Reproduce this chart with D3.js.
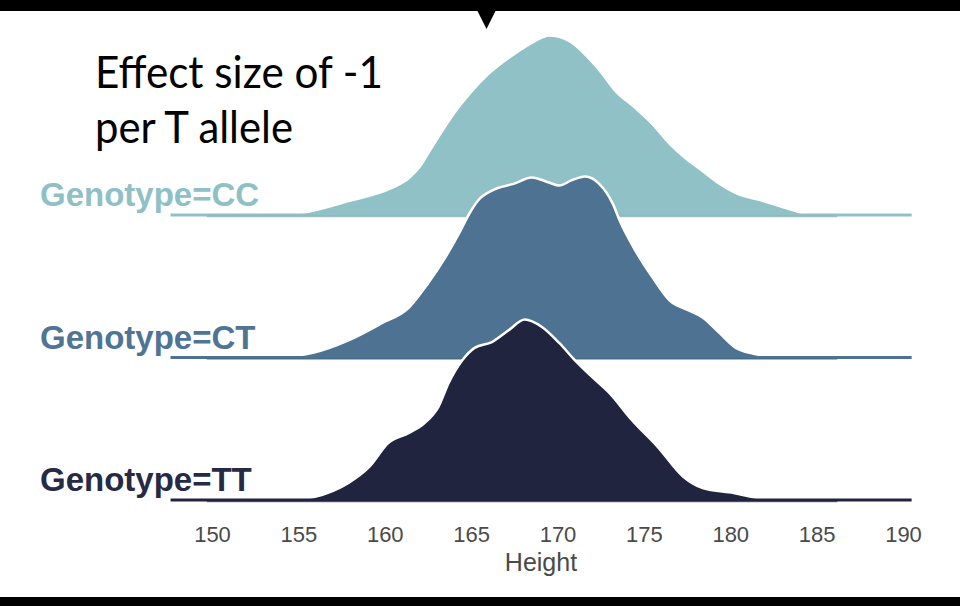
<!DOCTYPE html>
<html>
<head>
<meta charset="utf-8">
<script src="https://cdn.jsdelivr.net/npm/d3@7"></script>
<style>
  html, body { margin: 0; padding: 0; background: #fff; }
  svg { display: block; }
</style>
</head>
<body>
<svg id="chart" width="960" height="606"></svg>
<script>
// Genotype groups, back to front
const genotypes = ["CC", "CT", "TT"];
const labels = ["Genotype=CC", "Genotype=CT", "Genotype=TT"];
const fills = ["#8fc1c6", "#4d7292", "#21243e"];
const labelColors = ["#8ec0c5", "#4f7495", "#262a45"];

// Density estimates of height (cm) per genotype
const heightCC = [147.6, 154.0, 155.2, 157.9, 160.4, 161.4, 162.0, 162.6, 163.2, 163.7, 164.9, 166.0, 167.5, 168.7, 169.5, 170.7, 171.4, 172.6, 173.3, 174.5, 175.5, 176.5, 177.4, 178.4, 179.4, 180.3, 181.9, 183.4, 184.6, 190.5];
const densityCC = [0, 0.0003, 0.001, 0.0062, 0.012, 0.0164, 0.0212, 0.0285, 0.0358, 0.0418, 0.0538, 0.0627, 0.0716, 0.0773, 0.0798, 0.0773, 0.0729, 0.0627, 0.0556, 0.0476, 0.0404, 0.0316, 0.0253, 0.0196, 0.0138, 0.0098, 0.0062, 0.0027, 0.0004, 0];

const heightCT = [147.6, 154.0, 155.9, 157.9, 159.8, 161.4, 162.5, 163.5, 164.3, 164.9, 165.4, 166.2, 167.5, 168.5, 169.5, 170.1, 170.8, 171.6, 172.4, 173.2, 173.6, 174.5, 175.5, 176.5, 177.6, 178.4, 179.4, 180.3, 181.3, 183.2, 190.5];
const densityCT = [0, 0.0004, 0.0022, 0.0076, 0.0151, 0.0222, 0.0329, 0.0444, 0.0551, 0.064, 0.0698, 0.0742, 0.0773, 0.08, 0.0778, 0.0764, 0.0787, 0.0804, 0.0773, 0.0684, 0.0609, 0.0476, 0.0356, 0.0253, 0.0209, 0.0178, 0.0107, 0.0044, 0.0018, 0.0002, 0];

const heightTT = [147.6, 154.6, 155.9, 157.9, 159.1, 160.2, 161.4, 162.3, 163.1, 163.7, 164.5, 165.2, 166.2, 167.2, 168.1, 169.1, 170.1, 171.0, 172.0, 173.0, 174.3, 175.8, 177.3, 178.4, 180.2, 182.0, 183.6, 190.5];
const densityTT = [0, 0, 0.0013, 0.0076, 0.0147, 0.0253, 0.0298, 0.0342, 0.0413, 0.052, 0.0622, 0.0676, 0.0702, 0.0756, 0.0802, 0.0769, 0.0698, 0.0622, 0.0547, 0.0476, 0.0356, 0.0236, 0.0102, 0.0053, 0.0031, 0.0004, 0, 0];

const xTicks = [150, 155, 160, 165, 170, 175, 180, 185, 190];
const xTitle = "Height";
const noteLines = ["Effect size of -1", "per T allele"];

const series = [
  { h: heightCC, d: densityCC },
  { h: heightCT, d: densityCT },
  { h: heightTT, d: densityTT }
];

const svg = d3.select("#chart");

// Scales
const x = d3.scaleLinear().domain([150, 190]).range([212, 903]);
const base = d3.scalePoint().domain(genotypes).range([215, 500]);
const ridge = d3.scaleLinear().domain([0, 0.08]).range([0, 180]);

// Frame bars and pointer
svg.append("rect").attr("x", 0).attr("y", 0).attr("width", 960).attr("height", 11).attr("fill", "#000");
svg.append("rect").attr("x", 0).attr("y", 597).attr("width", 960).attr("height", 9).attr("fill", "#000");
svg.append("path").attr("d", "M477,10 L496,10 L486.5,29 Z").attr("fill", "#000");

// Ridges
genotypes.forEach((g, i) => {
  const s = series[i];
  const pts = s.h.map((h, k) => [h, s.d[k]]);
  const y0 = base(g);
  const area = d3.area()
    .x(p => x(p[0]))
    .y0(y0)
    .y1(p => y0 - ridge(p[1]))
    .curve(d3.curveMonotoneX);
  const line = d3.line()
    .x(p => x(p[0]))
    .y(p => y0 - ridge(p[1]))
    .curve(d3.curveMonotoneX);

  const grp = svg.append("g").attr("class", "ridge-" + g);
  grp.append("path").attr("d", area(pts)).attr("fill", fills[i]);
  // white outline along the density curve
  grp.append("path").attr("d", line(pts))
    .attr("fill", "none").attr("stroke", "#fff").attr("stroke-width", 2.5)
    .attr("stroke-linejoin", "round");
  // colored baseline across the full range
  grp.append("line")
    .attr("x1", x(147.6)).attr("x2", x(190.5))
    .attr("y1", y0).attr("y2", y0)
    .attr("stroke", fills[i]).attr("stroke-width", 3);
  grp.append("line")
    .attr("x1", x(149.7)).attr("x2", x(186.2))
    .attr("y1", y0 + 1.5).attr("y2", y0 + 1.5)
    .attr("stroke", d3.color(fills[i]).darker(0.4)).attr("stroke-width", 1.5)
    .attr("opacity", 0.6);

  svg.append("text")
    .attr("x", 40).attr("y", y0 - 9)
    .attr("fill", labelColors[i])
    .attr("font-family", "Liberation Sans, Arial, sans-serif")
    .attr("font-weight", "bold")
    .attr("font-size", 33)
    .text(labels[i]);
});

// X axis
const axis = svg.append("g")
  .attr("transform", "translate(0,520)")
  .call(d3.axisBottom(x).tickValues(xTicks).tickSize(0).tickFormat(d3.format("d")));
axis.select(".domain").remove();
axis.selectAll("text")
  .attr("y", 22).attr("dy", 0)
  .attr("fill", "#4a4a4a")
  .attr("font-family", "Liberation Sans, Arial, sans-serif")
  .attr("font-size", 22);

svg.append("text")
  .attr("x", 541).attr("y", 571)
  .attr("text-anchor", "middle")
  .attr("fill", "#4a4a4a")
  .attr("font-family", "Liberation Sans, Arial, sans-serif")
  .attr("font-size", 25)
  .text(xTitle);

// Annotation
const noteWidths = [288, 198];
noteLines.forEach((t, i) => {
  svg.append("text")
    .attr("x", 95).attr("y", 88 + i * 55)
    .attr("fill", "#000")
    .attr("font-family", "Lato, 'Open Sans', sans-serif")
    .attr("font-size", 45)
    .attr("textLength", noteWidths[i])
    .attr("lengthAdjust", "spacingAndGlyphs")
    .text(t);
});
</script>
</body>
</html>
